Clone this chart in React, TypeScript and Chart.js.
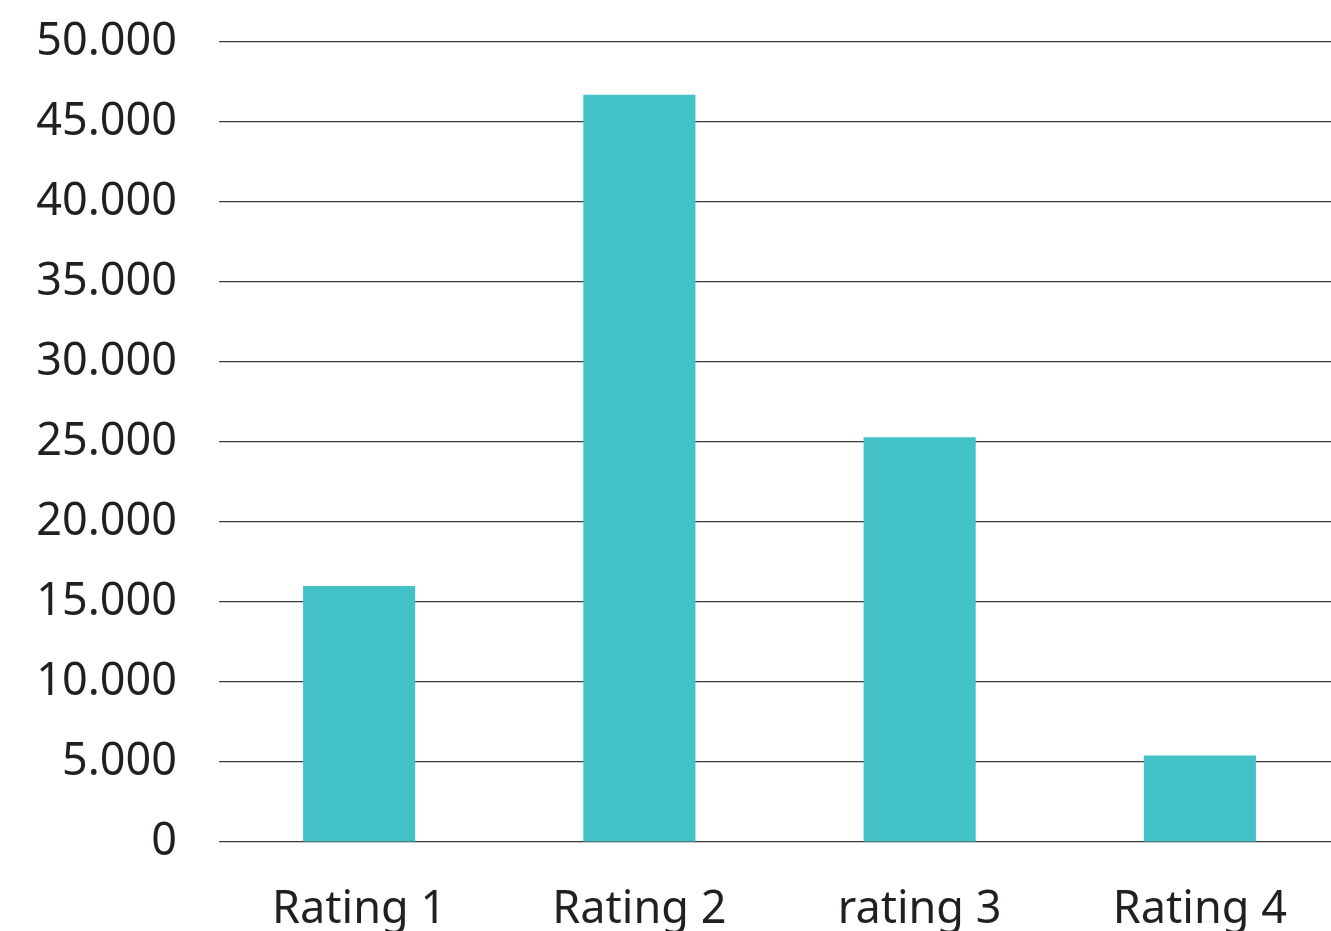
import React, { useEffect, useRef } from "react";
import { Chart, registerables } from "chart.js";

Chart.register(...registerables);

const categories = ["Rating 1", "Rating 2", "rating 3", "Rating 4"];
const values = [16000, 46700, 25300, 5400];
const yMax = 50000;
const yStep = 5000;

const FONT = '"Noto Sans", "DejaVu Sans", sans-serif';

function formatThousands(v: number): string {
  return String(Math.round(v)).replace(/\B(?=(\d{3})+(?!\d))/g, ".");
}

export default function App() {
  const ref = useRef<HTMLCanvasElement | null>(null);

  useEffect(() => {
    document.documentElement.style.overflow = "hidden";
    document.body.style.overflow = "hidden";
    document.body.style.margin = "0";
    if (!ref.current) return;
    const chart = new Chart(ref.current, {
      type: "bar",
      data: {
        labels: categories,
        datasets: [
          {
            data: values,
            backgroundColor: "#42C1C7",
            borderWidth: 0,
            barPercentage: 0.4,
            categoryPercentage: 1,
          },
        ],
      },
      options: {
        animation: false,
        responsive: false,
        maintainAspectRatio: false,
        layout: { padding: { top: 42, left: 0, right: 0, bottom: 0 } },
        plugins: {
          legend: { display: false },
          tooltip: { enabled: false },
        },
        scales: {
          x: {
            grid: { display: false, drawTicks: false },
            border: { display: false },
            ticks: {
              color: "#231f20",
              font: { family: FONT, size: 45 },
              padding: 41,
              maxRotation: 0,
            },
            afterFit: (s: any) => {
              s.height = 89;
            },
          },
          y: {
            min: 0,
            max: yMax,
            grid: { color: "#3a3a3a", lineWidth: 1.2, drawTicks: false },
            border: { display: false },
            ticks: {
              stepSize: yStep,
              color: "#231f20",
              font: { family: FONT, size: 45 },
              padding: 42,
              callback: (v: any) => formatThousands(Number(v)),
            },
            afterFit: (s: any) => {
              s.width = 219;
              s.paddingTop = 0;
              s.paddingBottom = 0;
            },
          },
        },
      },
    });
    return () => chart.destroy();
  }, []);

  return (
    <div style={{ position: "absolute", left: 0, top: 0, width: 1340, height: 931 }}>
      <canvas ref={ref} width={1340} height={931} style={{ width: 1340, height: 931 }} />
    </div>
  );
}
